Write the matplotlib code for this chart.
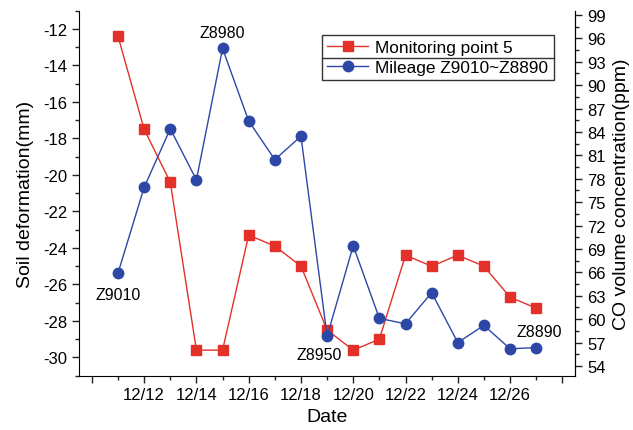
import matplotlib.pyplot as plt
from matplotlib.lines import Line2D
from matplotlib.ticker import MultipleLocator, FixedLocator

plt.rcParams['font.family'] = ['Liberation Sans', 'DejaVu Sans']
plt.rcParams['axes.unicode_minus'] = False

days = [11, 12, 13, 14, 15, 16, 17, 18, 19, 20, 21, 22, 23, 24, 25, 26, 27]
soil = [-12.4, -17.5, -20.4, -29.6, -29.6, -23.3, -23.9, -25.0, -28.5,
        -29.6, -29.0, -24.4, -25.0, -24.4, -25.0, -26.7, -27.3]
co = [65.9, 76.9, 84.4, 77.85, 94.7, 85.4, 80.45, 83.45, 57.8,
      69.4, 60.1, 59.4, 63.4, 57.0, 59.2, 56.2, 56.35]
tick_days = [10, 12, 14, 16, 18, 20, 22, 24, 26, 28]
tick_labels = ['', '12/12', '12/14', '12/16', '12/18', '12/20', '12/22', '12/24', '12/26', '']

red = '#E3312A'
blue = '#2D47A6'

fig = plt.figure(figsize=(6.33, 4.31), dpi=100)
ax = fig.add_axes([0.1245, 0.126, 0.7845, 0.847])
ax2 = ax.twinx()

l1, = ax.plot(days, soil, color=red, lw=1, marker='s', ms=6.5,
              label='Monitoring point 5', zorder=3)
l2, = ax2.plot(days, co, color=blue, lw=1, marker='o', ms=7.5,
               label='Mileage Z9010~Z8890', zorder=3)

ax.set_xlim(9.5, 28.5)
ax.set_ylim(-31, -11)
ax2.set_ylim(52.75, 99.55)

ax.xaxis.set_major_locator(FixedLocator(tick_days))
ax.set_xticklabels(tick_labels)
ax.xaxis.set_minor_locator(MultipleLocator(1))
ax.yaxis.set_major_locator(MultipleLocator(2))
ax.yaxis.set_minor_locator(MultipleLocator(1))
ax2.yaxis.set_major_locator(FixedLocator(list(range(54, 100, 3))))
ax2.yaxis.set_minor_locator(MultipleLocator(1.5))

for a in (ax, ax2):
    a.spines['top'].set_visible(False)
    a.tick_params(which='major', length=5, width=1, labelsize=12, color='#222222')
    a.tick_params(which='minor', length=3, width=1, color='#222222')
ax2.spines['left'].set_visible(False)
ax2.spines['bottom'].set_visible(False)

ax.set_xlabel('Date', fontsize=14, labelpad=4)
ax.set_ylabel('Soil deformation(mm)', fontsize=14, labelpad=6)
ax2.set_ylabel('CO volume concentration(ppm)', fontsize=14, labelpad=5)

# point labels
ax2.annotate('Z9010', (11, co[0]), xytext=(0, -10), textcoords='offset points',
             ha='center', va='top', fontsize=11.5)
ax2.annotate('Z8980', (15, co[4]), xytext=(0, 6), textcoords='offset points',
             ha='center', va='bottom', fontsize=11.5)
ax2.annotate('Z8950', (19, co[8]), xytext=(-6, -8), textcoords='offset points',
             ha='center', va='top', fontsize=11.5)
ax2.annotate('Z8890', (27, co[16]), xytext=(2, 6), textcoords='offset points',
             ha='center', va='bottom', fontsize=11.5)

leg = ax2.legend([l1, l2], [l1.get_label(), l2.get_label()], loc='upper right',
                 bbox_to_anchor=(0.956, 0.934), borderaxespad=0, fontsize=12.4,
                 fancybox=False, framealpha=1, edgecolor='#333333',
                 borderpad=0.3, labelspacing=0.3, handlelength=2.4,
                 handletextpad=0.4)
leg.get_frame().set_linewidth(1)

fig.canvas.draw()
bb = leg.get_window_extent()
ymid = (bb.y0 + bb.y1) / 2
inv = fig.transFigure.inverted()
(x0, y0), (x1, y1) = inv.transform([(bb.x0, ymid), (bb.x1, ymid)])
fig.add_artist(Line2D([x0, x1], [y0, y1], color='#333333', lw=1))

fig.savefig('out.png', dpi=100)
